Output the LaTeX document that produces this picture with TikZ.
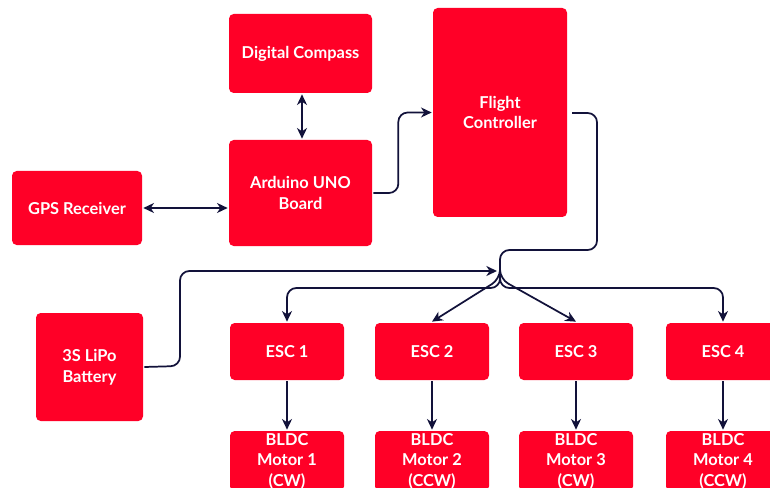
\documentclass[tikz,border=0pt]{standalone}
\usepackage{fontspec}
\setmainfont{Lato}
\usetikzlibrary{arrows.meta,calc}
\definecolor{boxred}{HTML}{FF0027}
\definecolor{navy}{HTML}{12123A}
\begin{document}
\begin{tikzpicture}[x=0.75pt,y=-0.75pt,
  box/.style={fill=boxred, rounded corners=3.5pt, text=white, font=\bfseries\fontsize{12.3}{15.5}\selectfont,
    align=center, inner sep=0pt, outer sep=1pt},
  conn/.style={draw=navy, line width=1.3pt, rounded corners=7pt},
  tip/.style={-{Stealth[length=8pt,width=7.5pt,inset=2.5pt]}},
  both/.style={{Stealth[length=8pt,width=7.5pt,inset=2.5pt]}-{Stealth[length=8pt,width=7.5pt,inset=2.5pt]}}]
\useasboundingbox (0,0) rectangle (770,488);
\clip (0,0) rectangle (770,488);
\node[box, minimum width={143*0.75pt}, minimum height={79*0.75pt}] (dc) at (300.5,53.5) {Digital Compass};
\node[box, minimum width={143*0.75pt}, minimum height={106*0.75pt}] (ard) at (300.5,193) {Arduino UNO\\Board};
\node[box, minimum width={130*0.75pt}, minimum height={74*0.75pt}] (gps) at (77,208) {GPS Receiver};
\node[box, minimum width={134*0.75pt}, minimum height={209*0.75pt}] (fc) at (500,112.5) {Flight\\Controller};
\node[box, minimum width={107*0.75pt}, minimum height={108*0.75pt}] (bat) at (89.5,367) {3S LiPo\\Battery};
\foreach \n/\x in {1/287,2/432,3/576,4/723}{
  \node[box, minimum width={114*0.75pt}, minimum height={57*0.75pt}] (esc\n) at (\x,351.5) {ESC \n};
}
\node[box, minimum width={114*0.75pt}, minimum height={60*0.75pt}] (m1) at (287,461) {BLDC\\Motor 1\\(CW)};
\node[box, minimum width={114*0.75pt}, minimum height={60*0.75pt}] (m2) at (432,461) {BLDC\\Motor 2\\(CCW)};
\node[box, minimum width={114*0.75pt}, minimum height={60*0.75pt}] (m3) at (576,461) {BLDC\\Motor 3\\(CW)};
\node[box, minimum width={114*0.75pt}, minimum height={60*0.75pt}] (m4) at (723,461) {BLDC\\Motor 4\\(CCW)};
\coordinate (J) at (500,272);
\coordinate (fcout) at (572,113);
% connectors
\draw[conn,both] (dc.south -| 302,0) -- (ard.north -| 302,0);
\draw[conn,both] (gps.east) -- (gps.east -| ard.west);
\draw[conn,tip] (ard.east) -- ++(25,0) |- (fc.west);
\draw[conn] (fcout) -- (597,113) -- (597,250) -- (500,250) -- (J);
\draw[conn,tip] (bat.east) -- (180,366) -- (180,271) -- ($(J)+(-3,-1)$);
\draw[conn,tip] (J) -- (500,288) -| (esc1.north);
\draw[conn,tip] (J) -- (500,288) -| (esc4.north);
\draw[conn,tip] (J) -- (500,279) -- (esc2.north);
\draw[conn,tip] (J) -- (500,279) -- (esc3.north);
\foreach \n in {1,2,3,4}{
  \draw[conn,tip] (esc\n) -- (m\n);
}
\end{tikzpicture}
\end{document}
